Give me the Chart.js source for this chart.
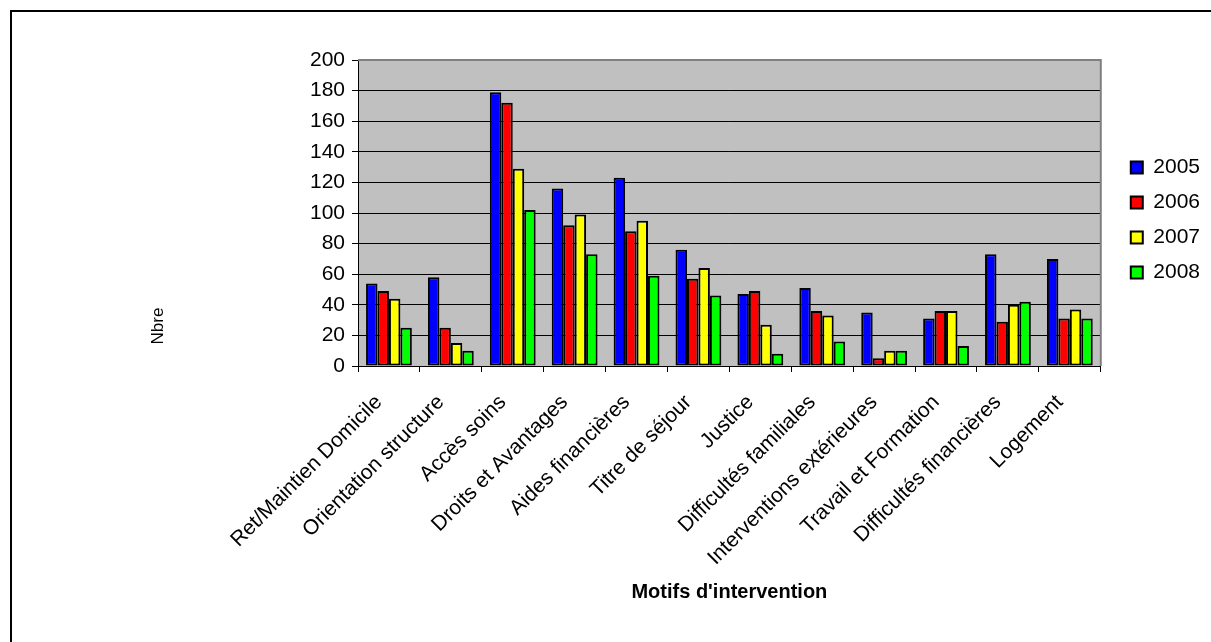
<!DOCTYPE html>
<html lang="fr">
<head>
    <meta charset="UTF-8">
    <title>Motifs d'intervention</title>
    <script src="https://cdn.jsdelivr.net/npm/chart.js"></script>
    <style>
        body { margin: 0; background: #fff; }
        #wrap { position: absolute; left: 0; top: 0; width: 1211px; height: 642px; }
        #cadre { position: absolute; left: 10px; top: 10px; width: 1300px; height: 700px;
                 border-top: 2px solid #000; border-left: 2px solid #000; pointer-events: none; }
    </style>
</head>
<body>
    <div id="wrap"><canvas id="myChart"></canvas></div>
    <div id="cadre"></div>
    <script>
        // catégories et valeurs
        const motifs = ['Ret/Maintien Domicile', 'Orientation structure', 'Accès soins', 'Droits et Avantages',
            'Aides financières', 'Titre de séjour', 'Justice', 'Difficultés familiales',
            'Interventions extérieures', 'Travail et Formation', 'Difficultés financières', 'Logement'];
        const annees = ['2005', '2006', '2007', '2008'];
        const v2005 = [54, 58, 179, 116, 123, 76, 47, 51, 35, 31, 73, 70];
        const v2006 = [49, 25, 172, 92, 88, 57, 49, 36, 5, 36, 29, 31];
        const v2007 = [44, 15, 129, 99, 95, 64, 27, 33, 10, 36, 40, 37];
        const v2008 = [25, 10, 102, 73, 59, 46, 8, 16, 10, 13, 42, 31];
        const couleurs = ['#0000ff', '#ff0000', '#ffff00', '#00ff00'];
        const titreY = 'Nbre';

        Chart.defaults.font.family = '"Liberation Sans", Arial, sans-serif';
        Chart.defaults.color = '#000';

        // fond gris de la zone de tracé + bord gris en haut et à droite
        const fondZone = {
            id: 'fondZone',
            beforeDraw(chart) {
                const { ctx, chartArea: a } = chart;
                ctx.save();
                ctx.fillStyle = '#c0c0c0';
                ctx.fillRect(a.left, a.top, a.right - a.left, a.bottom - a.top);
                ctx.restore();
            },
            beforeDatasetsDraw(chart) {
                const { ctx, chartArea: a } = chart;
                ctx.save();
                ctx.strokeStyle = '#808080';
                ctx.lineWidth = 2;
                ctx.beginPath();
                ctx.moveTo(a.left, a.top);
                ctx.lineTo(a.right, a.top);
                ctx.lineTo(a.right, a.bottom);
                ctx.stroke();
                ctx.restore();
            },
            // titre vertical "Nbre", centré sur toute la hauteur du cadre
            afterDraw(chart) {
                const { ctx } = chart;
                ctx.save();
                ctx.translate(158, 326);
                ctx.rotate(-Math.PI / 2);
                ctx.font = '17px "Liberation Sans", Arial, sans-serif';
                ctx.fillStyle = '#000';
                ctx.textAlign = 'center';
                ctx.textBaseline = 'middle';
                ctx.fillText(titreY, 0, 0);
                ctx.restore();
            }
        };

        const series = [v2005, v2006, v2007, v2008];
        const ctx = document.getElementById('myChart').getContext('2d');
        new Chart(ctx, {
            type: 'bar',
            data: {
                labels: motifs,
                datasets: annees.map((a, i) => ({
                    label: a,
                    data: series[i],
                    backgroundColor: couleurs[i],
                    borderColor: '#000',
                    borderWidth: 2,
                    borderSkipped: false,
                    categoryPercentage: 0.74,
                    barPercentage: 1
                }))
            },
            options: {
                responsive: true,
                maintainAspectRatio: false,
                animation: false,
                layout: { padding: { left: 0, top: 60, right: 1, bottom: 0 } },
                plugins: {
                    legend: {
                        position: 'right',
                        align: 'start',
                        title: { display: true, text: ' ', font: { size: 10 }, padding: { top: 0, bottom: 71 } },
                        labels: { boxWidth: 12, boxHeight: 12, padding: 14, font: { size: 21 } }
                    },
                    tooltip: { enabled: false }
                },
                scales: {
                    x: {
                        grid: { drawOnChartArea: false, color: '#000', tickLength: 6 },
                        border: { color: '#000', width: 1 },
                        ticks: { autoSkip: false, minRotation: 45, maxRotation: 45, font: { size: 21 },
                                 padding: 18, labelOffset: -10 },
                        title: { display: true, text: "Motifs d'intervention", font: { size: 20, weight: 'bold' },
                                 padding: { top: 0, bottom: 38 } },
                        afterFit(s) { s.height = 276; }
                    },
                    y: {
                        min: 0, max: 200,
                        ticks: { stepSize: 20, font: { size: 21 }, padding: 7 },
                        grid: { color: '#000', tickColor: '#000', tickLength: 6 },
                        border: { color: '#000', width: 1 },
                        afterFit(s) { s.width = 358; }
                    },
                    espace: {
                        position: 'right',
                        display: true,
                        grid: { display: false },
                        ticks: { display: false },
                        border: { display: false },
                        afterFit(s) { s.width = 16; }
                    }
                }
            },
            plugins: [fondZone]
        });
    </script>
</body>
</html>
